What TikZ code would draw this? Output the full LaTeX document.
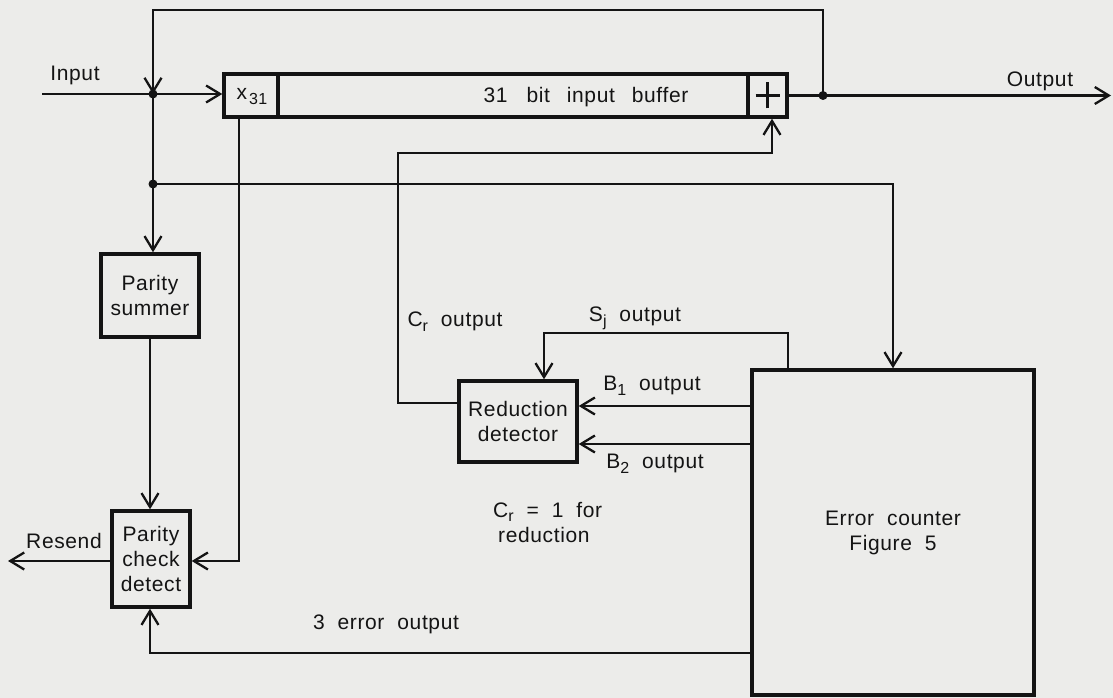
\documentclass[tikz,border=0pt]{standalone}
\usepackage{fontspec}
\setmainfont[WordSpace=2,LetterSpace=3]{Liberation Sans}
\usetikzlibrary{arrows.meta}
\definecolor{paper}{RGB}{236,236,234}
\definecolor{ink}{RGB}{20,20,20}
\newcommand{\sbs}[1]{\raisebox{-0.45ex}{\fontsize{16}{16}\selectfont #1}}
\tikzset{
  >={Straight Barb[length=14pt,width=17pt]},
  wire/.style={draw=ink,line width=2.3pt},
  blk/.style={draw=ink,line width=3.4pt,rectangle,inner sep=0pt,align=center,
              font=\fontsize{21}{25}\selectfont,text=ink},
  lbl/.style={inner sep=0pt,font=\fontsize{21}{25}\selectfont,text=ink},
  dot/.style={circle,fill=ink,draw=none,inner sep=0pt,minimum size=9pt}
}
\begin{document}
\begin{tikzpicture}[x=1pt,y=-1pt]
\fill[paper] (0,0) rectangle (1113,698);
\useasboundingbox (0,0) rectangle (1113,698);
% buffer
\node[blk,minimum width=54pt,minimum height=43pt] (x31) at (251,95.5) {};
\node[blk,minimum width=470pt,minimum height=43pt] (buf) at (513,95.5) {};
\node[blk,minimum width=39pt,minimum height=43pt] (plus) at (767.5,95.5) {};
\node[lbl] (buft) at (586,97) {31\hspace{6pt} bit\hspace{4pt} input\hspace{4pt} buffer};
\node[lbl] (x31t) at (252,97) {x\hspace{2pt}\sbs{31}};
\draw[wire] ([xshift=-12pt]plus.center) -- ([xshift=12pt]plus.center)
      ([yshift=-13pt]plus.center) -- ([yshift=13pt]plus.center);
% blocks
\node[blk,minimum width=98pt,minimum height=83pt] (ps) at (150,295.5) {Parity\\summer};
\node[blk,minimum width=78pt,minimum height=96pt] (pcd) at (151,559) {Parity\\check\\detect};
\node[blk,minimum width=118pt,minimum height=81pt] (rd) at (518,421.5) {Reduction\\detector};
\node[blk,minimum width=282pt,minimum height=325pt] (ec) at (893,532.5) {Error counter\\Figure 5};
% junctions
\node[dot] (j1) at (153,94) {};
\node[dot] (j2) at (153,184) {};
\node[dot] (j3) at (823,95.5) {};
\coordinate (inL) at (42,94);
\coordinate (outR) at (1111,95.5);
\coordinate (tp) at (823,10);
\coordinate (xd) at (239,561);
\coordinate (rs) at (8,561);
\coordinate (e3) at (150,653);
\coordinate (cr) at (398,403);
\coordinate (crt) at (398,153);
\coordinate (crr) at (772,153);
\coordinate (sjr) at (788,333);
\coordinate (sjl) at (544,333);
\coordinate (b1) at (0,406);
\coordinate (b2) at (0,444);
% connectors
\draw[wire,->] (inL) -- (j1.center) -- (j1.center -| x31.west);
\draw[wire,->] (j3.center) -- (tp) -- (tp -| j1) -- (j1.center);
\draw[wire,->] (plus.east) -- (j3.center) -- (outR);
\draw[wire] (j1.center) -- (j2.center);
\draw[wire,->] (j2.center) -- (j2.center |- ps.north);
\draw[wire,->] (j2.center) -- (j2.center -| ec.north) -- (ec.north);
\draw[wire,->] (ps.south) -- (ps.south |- pcd.north);
\draw[wire,->] (xd |- x31.south) -- (xd) -- (xd -| pcd.east);
\draw[wire,->] (pcd.west |- rs) -- (rs);
\draw[wire,->] (e3 -| ec.west) -- (e3) -- (e3 |- pcd.south);
\draw[wire,->] (cr -| rd.west) -- (cr) -- (crt) -- (crr) -- (crr |- plus.south);
\draw[wire,->] (sjr |- ec.north) -- (sjr) -- (sjl) -- (sjl |- rd.north);
\draw[wire,->] (b1 -| ec.west) -- (b1 -| rd.east);
\draw[wire,->] (b2 -| ec.west) -- (b2 -| rd.east);
% labels
\node[lbl] (lin) at (75,75) {Input};
\node[lbl] (lout) at (1040,81) {Output};
\node[lbl] (lcr) at (455,322) {C\sbs{r} output};
\node[lbl] (lsj) at (635,318) {S\sbs{j} output};
\node[lbl] (lb1) at (652,386) {B\sbs{1} output};
\node[lbl] (lb2) at (655,464) {B\sbs{2} output};
\node[lbl,anchor=west,align=left] (lcr1) at (493,522) {C\sbs{r} = 1 for\\\hspace{5pt}reduction};
\node[lbl] (lres) at (64,541) {Resend};
\node[lbl] (l3e) at (386,624) {3 error output};
\end{tikzpicture}
\end{document}
